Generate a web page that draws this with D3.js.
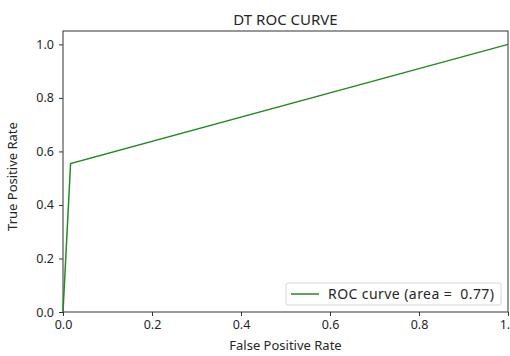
<!DOCTYPE html>
<html>
<head>
<meta charset="utf-8">
<script src="https://cdn.jsdelivr.net/npm/d3@7"></script>
<style>
  body { margin: 0; background: #fff; }
  svg text { font-family: "Noto Sans", "Open Sans", sans-serif; fill: #262626; }
</style>
</head>
<body>
<div id="chart-area"></div>
<script>
// ROC points
let fpr = [0, 0.017, 1];
let tpr = [0, 0.555, 1];
let ticks = [0, 0.2, 0.4, 0.6, 0.8, 1.0];
let legendLabel = "ROC curve (area =  0.77)";

let margin = {top: 31, right: 2, bottom: 44, left: 63};
let width = 510 - margin.left - margin.right,
    height = 356 - margin.top - margin.bottom;

let svg = d3.select("#chart-area").append("svg")
    .attr("width", 510)
    .attr("height", 356);

let g = svg.append("g")
    .attr("transform", "translate(" + margin.left + "," + margin.top + ")");

let x = d3.scaleLinear().domain([0, 1]).range([0, width]);
let y = d3.scaleLinear().domain([0, 1.05]).range([height, 0]);

let xAxis = d3.axisBottom(x).tickValues(ticks).tickFormat(d3.format(".1f")).tickSize(4).tickPadding(4);
let yAxis = d3.axisLeft(y).tickValues(ticks).tickFormat(d3.format(".1f")).tickSize(4).tickPadding(5);

let xg = g.append("g").attr("transform", "translate(0," + height + ")").call(xAxis);
let yg = g.append("g").call(yAxis);
[xg, yg].forEach(a => {
  a.select(".domain").remove();
  a.selectAll("line").attr("stroke", "#333").attr("stroke-width", 1);
  a.selectAll("text").attr("font-size", 12.5).attr("fill", "#262626");
});

// frame
g.append("rect")
  .attr("x", 0).attr("y", 0)
  .attr("width", width).attr("height", height)
  .attr("fill", "none").attr("stroke", "#333").attr("stroke-width", 1);

// curve
let line = d3.line().x((d, i) => x(fpr[i])).y((d, i) => y(tpr[i]));
g.append("path")
  .datum(fpr)
  .attr("d", line)
  .attr("fill", "none")
  .attr("stroke", "#228b22")
  .attr("stroke-width", 1.5);

// title and labels
svg.append("text")
  .attr("x", margin.left + width / 2).attr("y", 25)
  .attr("text-anchor", "middle").attr("font-size", 15)
  .text("DT ROC CURVE");

svg.append("text")
  .attr("x", margin.left + width / 2).attr("y", 350)
  .attr("text-anchor", "middle").attr("font-size", 13)
  .text("False Positive Rate");

svg.append("text")
  .attr("transform", "translate(17," + (margin.top + height / 2 + 5) + ") rotate(-90)")
  .attr("text-anchor", "middle").attr("font-size", 13)
  .text("True Positive Rate");

// legend
let lg = svg.append("g").attr("transform", "translate(286,283)");
lg.append("rect")
  .attr("width", 215).attr("height", 22).attr("rx", 2)
  .attr("fill", "#fff").attr("fill-opacity", 0.8)
  .attr("stroke", "#d6d6d6").attr("stroke-width", 1);
lg.append("line")
  .attr("x1", 5).attr("x2", 33).attr("y1", 11).attr("y2", 11)
  .attr("stroke", "#228b22").attr("stroke-width", 1.5);
lg.append("text")
  .attr("x", 42).attr("y", 16)
  .attr("font-size", 14)
  .attr("textLength", 166)
  .attr("xml:space", "preserve")
  .style("white-space", "pre")
  .text(legendLabel);
</script>
</body>
</html>
